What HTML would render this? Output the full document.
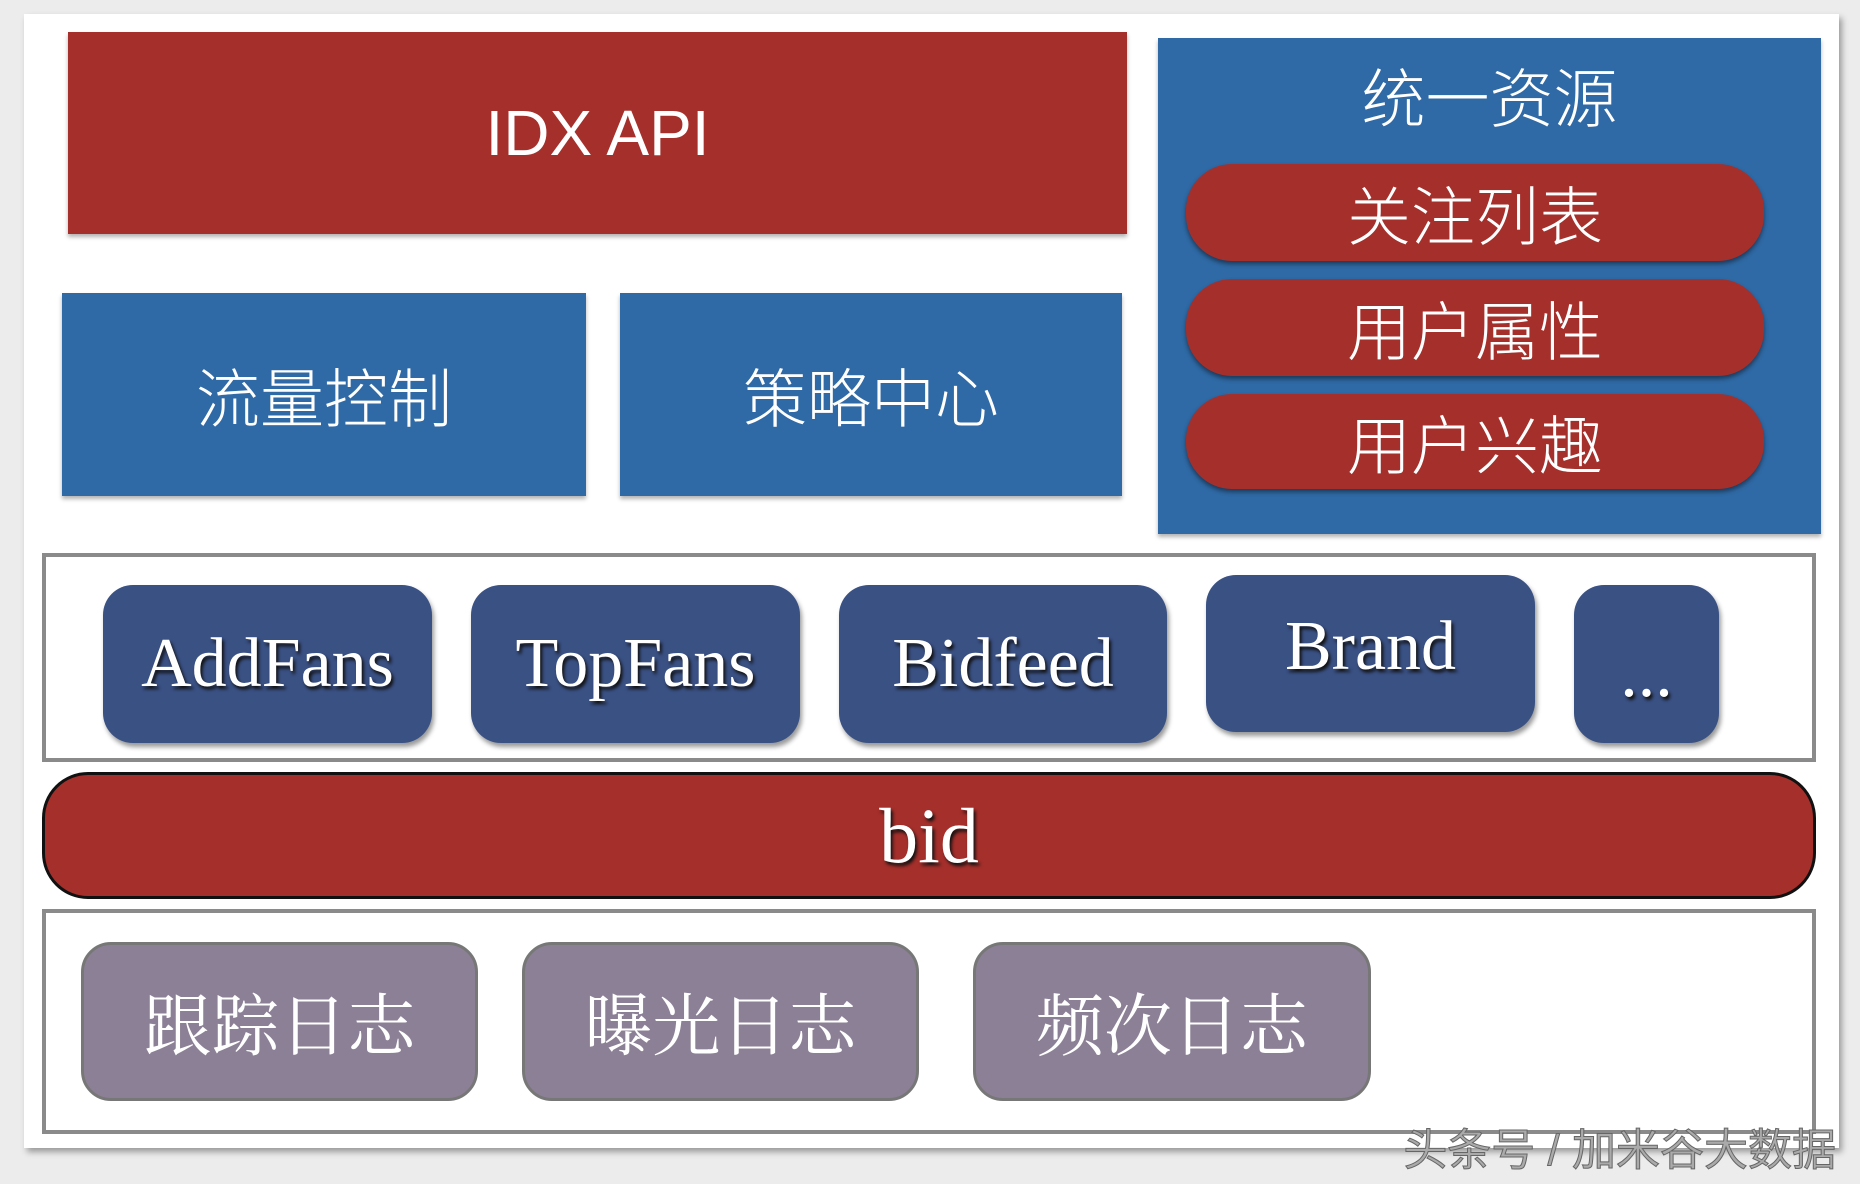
<!DOCTYPE html>
<html><head><meta charset="utf-8"><style>
html,body{margin:0;padding:0}
body{width:1860px;height:1184px;background:#ececec;position:relative;overflow:hidden;font-family:"Liberation Sans","Noto Sans CJK SC",sans-serif}
.abs{position:absolute;box-sizing:border-box;display:flex;align-items:center;justify-content:center;color:#fff}
.red{background:#a52f2b}
.blue{background:#2f6aa6}
.panel{background:#fff}
.cn{font-family:"Liberation Sans","Noto Sans CJK SC",sans-serif;font-weight:300}
.btn{background:#3a5184;border-radius:30px;font-family:"Liberation Serif","Noto Serif CJK SC",serif;font-size:70px;text-shadow:2px 3px 3px #111;box-shadow:2px 4px 5px rgba(0,0,0,.4)}
.pill{border-radius:46px;font-size:64px;box-shadow:0 3px 5px rgba(0,0,0,.45)}
.log{background:#8c8096;border:3px solid #777;border-radius:30px;font-family:"Liberation Serif","Noto Serif CJK SC",serif;font-size:68px}
.frame{border:4px solid #8a8a8a;background:#fff}
</style></head><body>
<div class="abs panel" style="left:24px;top:14px;width:1815px;height:1134px;box-shadow:3px 4px 6px rgba(0,0,0,.35)"></div>
<div class="abs red" style="left:68px;top:32px;width:1059px;height:202px;font-size:64px;font-weight:300;box-shadow:0 3px 4px rgba(0,0,0,.3)">IDX API</div>
<div class="abs blue" style="left:1158px;top:38px;width:663px;height:496px;box-shadow:0 3px 4px rgba(0,0,0,.3)"></div>
<div class="abs cn" style="left:1158px;top:55px;width:663px;height:80px;font-size:64px">统一资源</div>
<div class="abs red pill cn" style="left:1186px;top:164px;width:578px;height:97px">关注列表</div>
<div class="abs red pill cn" style="left:1186px;top:279px;width:578px;height:97px">用户属性</div>
<div class="abs red pill cn" style="left:1186px;top:394px;width:578px;height:95px">用户兴趣</div>
<div class="abs blue cn" style="left:62px;top:293px;width:524px;height:203px;font-size:64px;box-shadow:0 3px 4px rgba(0,0,0,.3)">流量控制</div>
<div class="abs blue cn" style="left:620px;top:293px;width:502px;height:203px;font-size:64px;box-shadow:0 3px 4px rgba(0,0,0,.3)">策略中心</div>
<div class="abs frame" style="left:42px;top:553px;width:1774px;height:209px"></div>
<div class="abs btn" style="left:103px;top:585px;width:329px;height:158px">AddFans</div>
<div class="abs btn" style="left:471px;top:585px;width:329px;height:158px">TopFans</div>
<div class="abs btn" style="left:839px;top:585px;width:328px;height:158px">Bidfeed</div>
<div class="abs btn" style="left:1206px;top:575px;width:329px;height:157px;padding-bottom:14px">Brand</div>
<div class="abs btn" style="left:1574px;top:585px;width:145px;height:158px;padding-top:20px">...</div>
<div class="abs red" style="left:42px;top:772px;width:1774px;height:127px;border:3px solid #111;border-radius:46px;font-family:'Liberation Serif',serif;font-size:78px;text-shadow:2px 3px 3px #111">bid</div>
<div class="abs frame" style="left:42px;top:909px;width:1774px;height:225px"></div>
<div class="abs log" style="left:81px;top:942px;width:397px;height:159px">跟踪日志</div>
<div class="abs log" style="left:522px;top:942px;width:397px;height:159px">曝光日志</div>
<div class="abs log" style="left:973px;top:942px;width:398px;height:159px">频次日志</div>
<div class="abs" style="left:1370px;top:1116px;width:466px;height:60px;font-size:44px;color:#aaa;-webkit-text-stroke:1px #666;justify-content:flex-end">头条号 / 加米谷大数据</div>
</body></html>
